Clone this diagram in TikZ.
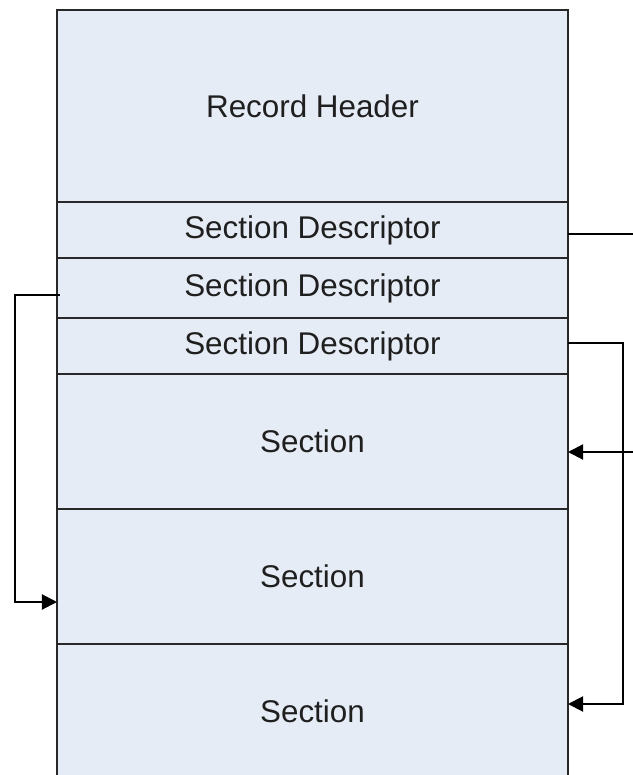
\documentclass[tikz,border=0pt]{standalone}
\usepackage{fontspec}
\setmainfont{Liberation Sans}
\usetikzlibrary{arrows.meta}
\definecolor{cellfill}{RGB}{230,236,246}
\definecolor{celledge}{RGB}{40,40,40}
\begin{document}
\begin{tikzpicture}[x=1bp,y=-1bp,
  cell/.style={draw=celledge, line width=1.5bp, fill=cellfill,
    minimum width=511bp, inner sep=0pt, outer sep=0pt,
    font=\fontsize{31.5}{36}\selectfont, text=black!88},
  link/.style={draw=black, line width=2bp},
  tip/.style={-{Triangle[length=15bp,width=15bp]}}]
\useasboundingbox (0,0) rectangle (633,775);

% the record layout, top to bottom
\node[cell, minimum height=192bp] (hdr) at (312.5,106) {Record Header};
\node[cell, minimum height=56bp]  (sd1) at (312.5,230) {Section Descriptor};
\node[cell, minimum height=60bp]  (sd2) at (312.5,288) {Section Descriptor};
\node[cell, minimum height=56bp]  (sd3) at (312.5,346) {Section Descriptor};
\node[cell, minimum height=135bp] (s1)  at (312.5,441.5) {Section};
\node[cell, minimum height=135bp] (s2)  at (312.5,576.5) {Section};
\node[cell, minimum height=135bp] (s3)  at (312.5,711.5) {Section};

% attachment points on the cells
\coordinate (a1) at ([yshift=-4bp]sd1.east);
\coordinate (a2) at ([xshift=3bp,yshift=-7bp]sd2.west);
\coordinate (a3) at ([yshift=3bp]sd3.east);
\coordinate (b1) at ([yshift=-10.5bp]s1.east);
\coordinate (b2) at ([yshift=-25.5bp]s2.west);
\coordinate (b3) at ([yshift=7.5bp]s3.east);

% free ends and bend columns of the links
\coordinate (e1) at (633,0);
\coordinate (lft) at (15,0);
\coordinate (rgt) at (623,0);

% descriptor 1 runs off to the right
\draw[link] (a1) -- (e1 |- a1);
% a link coming in to the first section
\draw[link, tip] (e1 |- b1) -- (b1);
% descriptor 2 points to the second section
\draw[link, tip] (a2) -- (lft |- a2) -- (lft |- b2) -- (b2);
% descriptor 3 points to the third section
\draw[link, tip] (a3) -- (rgt |- a3) -- (rgt |- b3) -- (b3);
\end{tikzpicture}
\end{document}
